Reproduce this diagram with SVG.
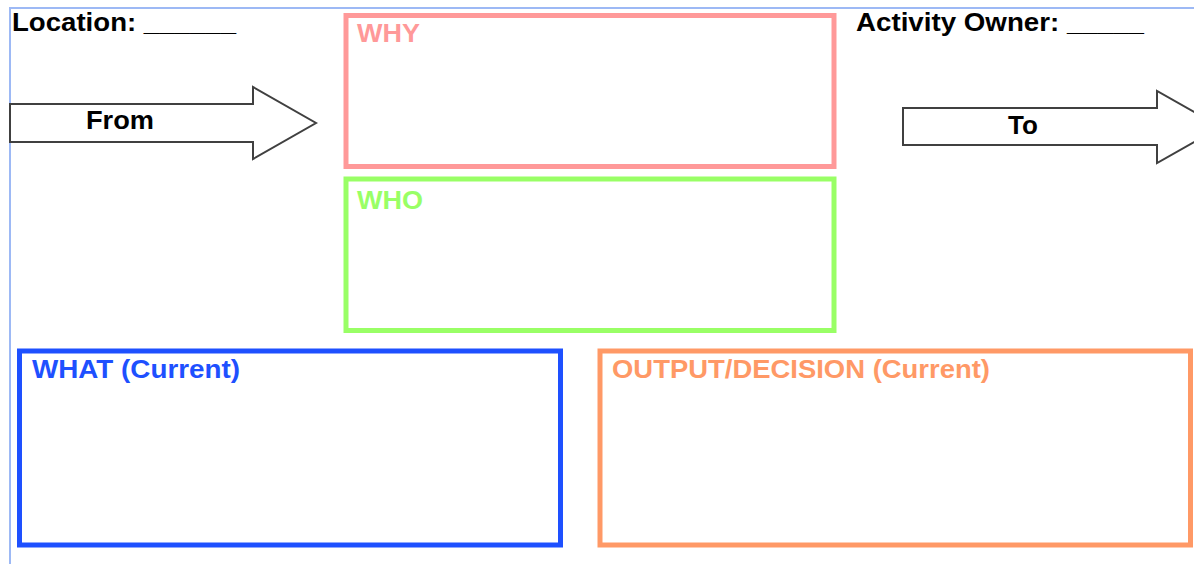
<svg xmlns="http://www.w3.org/2000/svg" width="1194" height="564" viewBox="0 0 1194 564">
<style>
  .lbl { font-family: "Liberation Sans", Arial, sans-serif; font-weight: bold; font-size: 26px; }
  .box { fill: #ffffff; stroke-width: 5; }
  .arrow { fill: #ffffff; stroke: #404040; stroke-width: 2; stroke-linejoin: miter; }
</style>
<rect x="0" y="0" width="1194" height="564" fill="#ffffff"/>
<g id="frame">
  <path d="M10 564 V8 H1194" fill="none" stroke="#9DB9F5" stroke-width="2"/>
</g>
<g id="location">
  <text class="lbl" x="12" y="31" fill="#000000" textLength="224" lengthAdjust="spacingAndGlyphs">Location: ______</text>
</g>
<g id="owner">
  <text class="lbl" x="856" y="31" fill="#000000" textLength="288" lengthAdjust="spacingAndGlyphs">Activity Owner: _____</text>
</g>
<g id="from">
  <polygon class="arrow" points="10,104 253,104 253,87 316,123 253,159 253,142 10,142"/>
  <text class="lbl" x="86" y="129" fill="#000000" textLength="68" lengthAdjust="spacingAndGlyphs">From</text>
</g>
<g id="to">
  <polygon class="arrow" points="903,108 1157,108 1157,91 1221,127 1157,163 1157,145 903,145"/>
  <text class="lbl" x="1008" y="134" fill="#000000">To</text>
</g>
<g id="why">
  <rect class="box" x="346" y="15.5" width="488" height="151" stroke="#FF9999"/>
  <text class="lbl" x="357" y="42" fill="#FF9999" textLength="63" lengthAdjust="spacingAndGlyphs">WHY</text>
</g>
<g id="who">
  <rect class="box" x="346" y="179" width="488" height="151.5" stroke="#99FF66"/>
  <text class="lbl" x="357" y="209" fill="#99FF66" textLength="66" lengthAdjust="spacingAndGlyphs">WHO</text>
</g>
<g id="what">
  <rect class="box" x="19.5" y="351" width="541" height="194" stroke="#1E50FF"/>
  <text class="lbl" x="32" y="378" fill="#1E50FF" textLength="208" lengthAdjust="spacingAndGlyphs">WHAT (Current)</text>
</g>
<g id="output">
  <rect class="box" x="600" y="351" width="590.5" height="194" stroke="#FF9966"/>
  <text class="lbl" x="612" y="378" fill="#FF9966" textLength="378" lengthAdjust="spacingAndGlyphs">OUTPUT/DECISION (Current)</text>
</g>
<g id="connectors"></g>
</svg>
